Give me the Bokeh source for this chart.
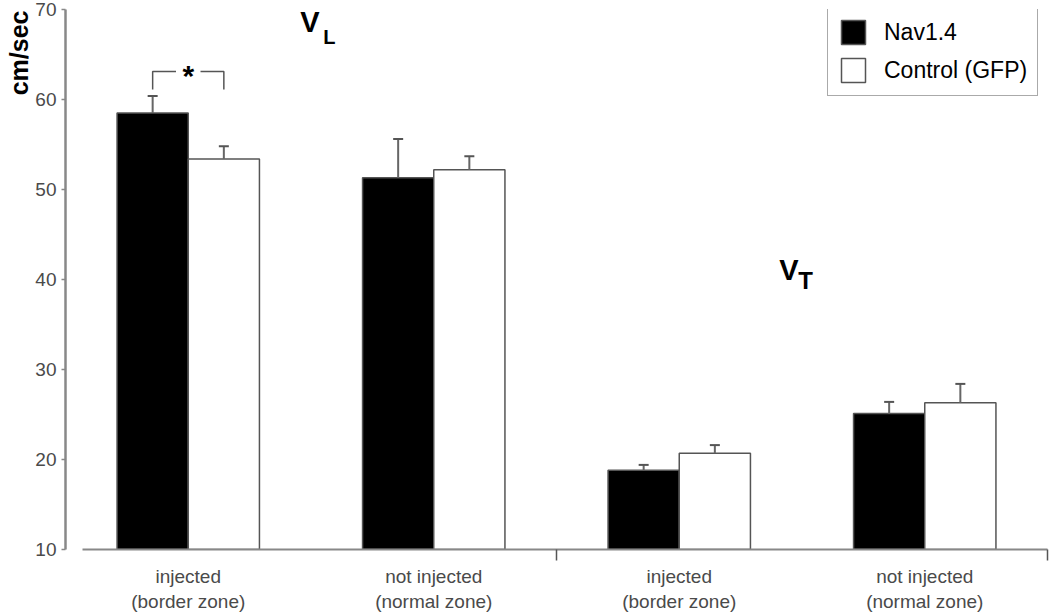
import math
from bokeh.plotting import figure
from bokeh.models import FixedTicker, Legend, LegendItem, Range1d, Title
from bokeh.core.properties import value
from bokeh.embed import file_html
from bokeh.resources import INLINE

# ---- data ----
group_labels = ["injected\n(border zone)", "not injected\n(normal zone)",
                "injected\n(border zone)", "not injected\n(normal zone)"]
nav_mean = [58.5, 51.3, 18.8, 25.1]
nav_err = [1.9, 4.3, 0.6, 1.3]
gfp_mean = [53.4, 52.2, 20.7, 26.3]
gfp_err = [1.4, 1.5, 0.9, 2.1]
y_ticks = [10, 20, 30, 40, 50, 60, 70]
divider_ticks = [1.5, 3.5]
sig_low, sig_high = 61.1, 63.1
series_names = ["Nav1.4", "Control (GFP)"]
y_title = "cm/sec"

FONT = "Liberation Sans"
BASE = 10
OFF = 0.145
BW = 0.29

groups = list(range(len(nav_mean)))
x_nav = [g - OFF for g in groups]
x_gfp = [g + OFF for g in groups]

p = figure(width=1049, height=614, x_range=Range1d(-0.5, 3.5), y_range=Range1d(10, 70),
           output_backend="svg", toolbar_location=None,
           min_border_left=65, min_border_right=2, min_border_top=9, min_border_bottom=64)
p.outline_line_color = None
p.xgrid.visible = False
p.ygrid.visible = False
p.background_fill_color = "white"

r_nav = p.vbar(x=x_nav, top=nav_mean, bottom=BASE, width=BW,
               fill_color="black", line_color="#555555", line_width=1.5)
r_gfp = p.vbar(x=x_gfp, top=gfp_mean, bottom=BASE, width=BW,
               fill_color="white", line_color="#555555", line_width=1.5)

# error bars (upper only)
for xs, m, e in ((x_nav, nav_mean, nav_err), (x_gfp, gfp_mean, gfp_err)):
    tops = [a + b for a, b in zip(m, e)]
    p.segment(x0=xs, y0=m, x1=xs, y1=tops, line_color="#666666", line_width=2)
    p.scatter(x=xs, y=tops, marker="dash", size=10, line_color="#555555", line_width=2)

# significance bracket over the first group
c = groups[0]
gap = 0.05
p.multi_line(xs=[[x_nav[0], x_nav[0], c - gap], [c + gap, x_gfp[0], x_gfp[0]]],
             ys=[[sig_low, sig_high, sig_high], [sig_high, sig_high, sig_low]],
             line_color="#555555", line_width=1.5)
p.text(x=[c], y=[sig_low + 1.6], text=["*"], text_font=value(FONT), text_font_style="bold",
       text_font_size="30px", text_align="center", text_baseline="alphabetic", text_color="black")

# V_L and V_T labels
def bold_text(x, y, t, size):
    p.text(x=[x], y=[y], text=[t], text_font=value(FONT), text_font_style="bold",
           text_font_size=size, text_align="left", text_baseline="alphabetic", text_color="black")

bold_text(0.456, 68.6, "V", "29px")
bold_text(0.55, 67.0, "L", "20px")
bold_text(2.407, 41.1, "V", "29px")
bold_text(2.485, 39.85, "T", "24px")

# x axis
xa = p.xaxis[0]
xa.ticker = FixedTicker(ticks=groups, minor_ticks=divider_ticks)
xa.major_label_overrides = {g: lab for g, lab in zip(groups, group_labels)}
xa.major_tick_out = 0
xa.major_tick_in = 0
xa.minor_tick_out = 11
xa.minor_tick_in = 0
xa.minor_tick_line_color = "#555555"
xa.minor_tick_line_width = 1.5
xa.axis_line_color = "#888888"
xa.axis_line_width = 2
xa.bounds = (-0.43, 3.5)
xa.major_label_text_font = FONT
xa.major_label_text_font_size = "19px"
xa.major_label_text_color = "#4a4a4a"
xa.major_label_standoff = 5

# y axis
ya = p.yaxis[0]
ya.ticker = FixedTicker(ticks=y_ticks, minor_ticks=[])
ya.major_tick_out = 4
ya.major_tick_in = 0
ya.major_tick_line_color = "#888888"
ya.major_tick_line_width = 1.5
ya.axis_line_color = "#888888"
ya.axis_line_width = 2.5
ya.major_label_text_font = FONT
ya.major_label_text_font_size = "19px"
ya.major_label_text_color = "#4a4a4a"
ya.major_label_standoff = 5

p.add_layout(Title(text=y_title, align="right", offset=1, standoff=0,
                   text_font=FONT, text_font_style="bold", text_font_size="25px",
                   text_color="black"), "left")

legend = Legend(items=[LegendItem(label=series_names[0], renderers=[r_nav]),
                       LegendItem(label=series_names[1], renderers=[r_gfp])],
                location=(762, 453), margin=0, padding=10, spacing=8,
                glyph_width=30, glyph_height=30, label_standoff=16, label_height=30,
                label_text_font=FONT, label_text_font_size="23px", label_text_color="black",
                border_line_color="#555555", border_line_width=1.5,
                background_fill_color="white", background_fill_alpha=1.0)
p.add_layout(legend)

open("out.html", "w").write(file_html(p, INLINE))
